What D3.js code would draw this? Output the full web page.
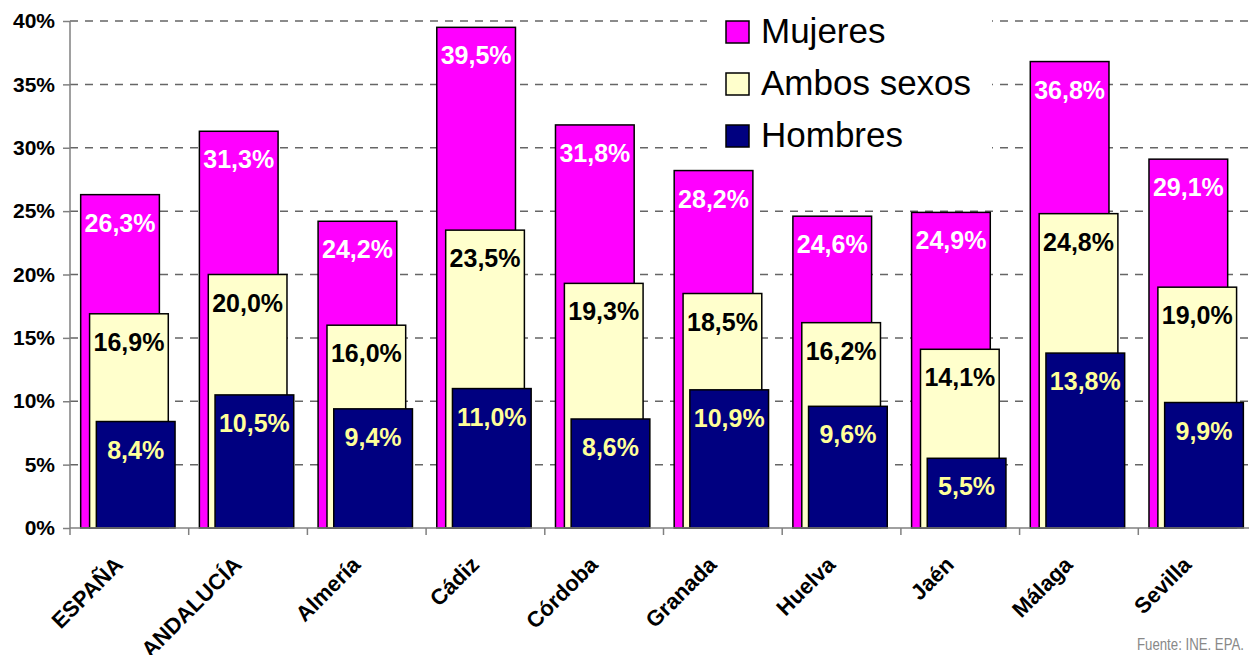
<!DOCTYPE html>
<html>
<head>
<meta charset="utf-8">
<script src="https://cdn.jsdelivr.net/npm/d3@7"></script>
<style>
	body { margin: 0; background: #fff; }
	svg { display: block; font-family: Arial, "Liberation Sans", sans-serif; }
</style>
</head>
<body>
<div id="chart"></div>
<script>
var categories = ["ESPAÑA", "ANDALUCÍA", "Almería", "Cádiz", "Córdoba", "Granada", "Huelva", "Jaén", "Málaga", "Sevilla"];
var mujeres = [26.3, 31.3, 24.2, 39.5, 31.8, 28.2, 24.6, 24.9, 36.8, 29.1];
var ambos = [16.9, 20.0, 16.0, 23.5, 19.3, 18.5, 16.2, 14.1, 24.8, 19.0];
var hombres = [8.4, 10.5, 9.4, 11.0, 8.6, 10.9, 9.6, 5.5, 13.8, 9.9];
var seriesNames = ["Mujeres", "Ambos sexos", "Hombres"];
var yTicks = [0, 5, 10, 15, 20, 25, 30, 35, 40];

var series = [
	{ name: seriesNames[0], values: mujeres, fill: "#ff00ff", label: "#ffffff", off: 0.09 },
	{ name: seriesNames[1], values: ambos, fill: "#ffffcc", label: "#000000", off: 0.165 },
	{ name: seriesNames[2], values: hombres, fill: "#000080", label: "#ffff99", off: 0.222 }
];

var width = 1249, height = 655;
var plotLeft = 70, plotBottom = 528, plotTop = 21;

var svg = d3.select("#chart")
	.append("svg")
	.attr("width", width)
	.attr("height", height);

var x = d3.scaleBand()
	.domain(categories)
	.range([plotLeft, plotLeft + 118.7 * categories.length])
	.padding(0);

var y = d3.scaleLinear()
	.domain([0, 40])
	.range([plotBottom, plotTop]);

// dashed gridlines
svg.append("g")
	.selectAll("line")
	.data(yTicks.filter(function (d) { return d > 0; }))
	.enter()
	.append("line")
	.attr("x1", plotLeft)
	.attr("x2", x.range()[1])
	.attr("y1", function (d) { return y(d); })
	.attr("y2", function (d) { return y(d); })
	.attr("stroke", "#666")
	.attr("stroke-width", 1.5)
	.attr("stroke-dasharray", "8,7");

// legend background hides the gridlines
svg.append("rect")
	.attr("x", 707)
	.attr("y", 0)
	.attr("width", 285)
	.attr("height", 165)
	.attr("fill", "#fff");

// bars
var bw = x.bandwidth();
series.forEach(function (s) {
	var g = svg.append("g");
	g.selectAll("rect")
		.data(s.values)
		.enter()
		.append("rect")
		.attr("x", function (d, i) { return x(categories[i]) + bw * s.off; })
		.attr("width", bw * 0.663)
		.attr("y", function (d) { return y(d); })
		.attr("height", function (d) { return plotBottom - y(d); })
		.attr("fill", s.fill)
		.attr("stroke", "#000")
		.attr("stroke-width", 1.5);
	g.selectAll("text")
		.data(s.values)
		.enter()
		.append("text")
		.attr("x", function (d, i) { return x(categories[i]) + bw * s.off + bw * 0.663 / 2; })
		.attr("y", function (d) { return y(d) + 37; })
		.attr("text-anchor", "middle")
		.attr("font-size", 25)
		.attr("font-weight", "bold")
		.attr("fill", s.label)
		.text(function (d) { return d.toFixed(1).replace(".", ",") + "%"; });
});

// y axis
var yAxis = svg.append("g")
	.attr("transform", "translate(" + plotLeft + ",0)")
	.call(d3.axisLeft(y).tickValues(yTicks).tickSize(7).tickPadding(8).tickFormat(function (d) { return d + "%"; }));
yAxis.select(".domain").attr("stroke", "#808080").attr("stroke-width", 1.5).attr("d", "M0," + plotTop + "V" + plotBottom);
yAxis.selectAll(".tick line").attr("stroke", "#808080").attr("stroke-width", 1.5);
yAxis.selectAll(".tick text")
	.attr("font-size", 21)
	.attr("font-weight", "bold")
	.attr("font-family", "Arial, 'Liberation Sans', sans-serif")
	.attr("fill", "#000");

// x axis
svg.append("line")
	.attr("x1", plotLeft)
	.attr("x2", x.range()[1])
	.attr("y1", plotBottom)
	.attr("y2", plotBottom)
	.attr("stroke", "#808080")
	.attr("stroke-width", 1.5);

svg.append("g")
	.selectAll("line")
	.data(categories)
	.enter()
	.append("line")
	.attr("x1", function (d) { return x(d); })
	.attr("x2", function (d) { return x(d); })
	.attr("y1", plotBottom)
	.attr("y2", plotBottom + 7)
	.attr("stroke", "#808080")
	.attr("stroke-width", 1.5);

svg.append("g")
	.selectAll("text")
	.data(categories)
	.enter()
	.append("text")
	.attr("transform", function (d) {
		return "translate(" + (x(d) + bw / 2 - 5) + "," + (plotBottom + 38) + ") rotate(-45)";
	})
	.attr("text-anchor", "end")
	.attr("font-size", 22)
	.attr("font-weight", "bold")
	.text(function (d) { return d; });

// legend
var legend = svg.append("g")
	.selectAll("g")
	.data(series)
	.enter()
	.append("g")
	.attr("transform", function (d, i) { return "translate(726," + (21 + i * 52) + ")"; });
legend.append("rect")
	.attr("width", 23)
	.attr("height", 22)
	.attr("fill", function (d) { return d.fill; })
	.attr("stroke", "#000")
	.attr("stroke-width", 1.5);
legend.append("text")
	.attr("x", 35)
	.attr("y", 22)
	.attr("font-size", 35)
	.attr("fill", "#000")
	.text(function (d) { return d.name; });

svg.append("text")
	.attr("x", 1244)
	.attr("y", 650)
	.attr("text-anchor", "end")
	.attr("font-size", 16)
	.attr("fill", "#888")
	.attr("textLength", 107)
	.attr("lengthAdjust", "spacingAndGlyphs")
	.text("Fuente: INE. EPA.");
</script>
</body>
</html>
